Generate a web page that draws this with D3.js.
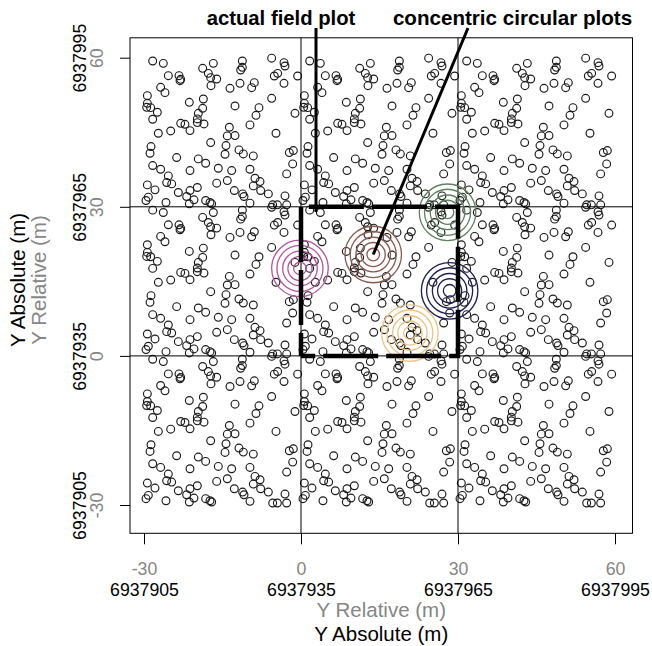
<!DOCTYPE html>
<html><head><meta charset="utf-8">
<script src="https://cdn.jsdelivr.net/npm/d3@7"></script>
<style>body{margin:0;background:#fff}svg{display:block;font-family:"Liberation Sans",Arial,sans-serif}</style>
</head><body><svg id="c" width="652" height="646"></svg>
<script>
// Stem positions of one 30 x 30 m tile (relative m)
const treeX = [1.66,3.69,24.39,26.75,26.94,11.21,13.25,18.79,18.47,18.79,4.65,6.69,7.01,12.29,12.74,13.89,24.9,25.54,26.75,29.36,12.8,18.34,21.08,20.57,16.43,3.18,4.01,0.64,0.64,0.51,1.27,2.55,1.66,8.66,11.34,11.21,10.38,17.39,21.97,24.39,21.4,28.85,10.19,10.19,11.46,7.01,7.83,8.79,5.1,2.74,16.31,20.25,25.22,15.92,17.39,12.74,15.67,1.34,1.15,6.24,10.38,11.78,15.48,18.15,18.98,20.89,27.77,28.54,28.41,1.66,3.18,8.79,14.2,16.75,20.25,27.26,4.65,4.33,5.29,21.21,22.17,0.64,2.1,6.56,8.79,10.19,13.89,15.92,20.89,22.29,23.76,26.94,17.26,18.85,19.11,0.83,0.38,4.2,8.15,9.55,11.78,12.61,12.93,8.66,20.25,24.59,25.48,27.26,6.88];
const treeY = [29.33,28.86,29.9,29.0,28.33,27.86,28.86,29.33,27.52,28.06,26.38,26.38,25.65,26.85,25.98,25.71,26.32,26.85,24.84,26.32,24.37,24.84,24.98,23.97,23.84,24.04,22.97,22.36,20.82,20.02,19.95,19.02,17.61,21.02,21.69,19.82,18.81,20.29,19.95,21.83,18.41,18.81,17.68,16.94,16.67,16.8,16.6,15.33,15.26,14.8,16.0,16.47,14.8,14.26,14.33,12.92,12.32,12.12,10.78,9.91,9.64,8.77,10.58,11.45,10.64,10.24,10.91,11.31,8.63,8.3,7.56,7.29,7.76,7.29,7.56,6.62,6.22,4.88,4.61,5.75,5.08,4.41,3.41,2.87,3.27,3.88,4.75,5.28,4.21,3.27,2.6,2.2,3.27,2.6,2.07,1.94,1.27,0.86,2.07,1.4,1.27,0.86,0.6,0.6,0.73,0.4,0.4,0.4,25.38];
// The tile is repeated around the field plot
const tileShift = [-30, 0, 30];
const relTicks = [-30, 0, 30, 60];
const absTicks = ["6937905", "6937935", "6937965", "6937995"];
const gridAt = [0, 30];
const fieldX = [0, 0, 30, 30, 0];
const fieldY = [0, 30, 30, 0, 0];
const plotCX = [-0.2, 13.8, 28.0, 28.4, 20.8];
const plotCY = [17.6, 20.4, 28.9, 13.1, 4.6];
const plotColor = ["#b2549e", "#8a5a50", "#5f7f60", "#1e1e55", "#ecc585"];
const ringR = [1.2, 2.3, 3.3, 4.4, 5.4];

const svg = d3.select("#c");
const X0 = 130, X1 = 632.5, Y0 = 37.8, Y1 = 533.3;
const x = d3.scaleLinear().domain([-30, 60]).range([144, 615]);
const y = d3.scaleLinear().domain([-30, 60]).range([505, 57.7]);
const gray = "#868686";
const FS = "17.7px";
const FT = "20.5px";

// points
const pts = [];
tileShift.forEach(dx => tileShift.forEach(dy => treeX.forEach((v, i) => pts.push([v + dx, treeY[i] + dy]))));
svg.append("g").selectAll("circle").data(pts).join("circle")
  .attr("cx", d => x(d[0])).attr("cy", d => y(d[1])).attr("r", 3.9)
  .attr("fill", "none").attr("stroke", "#1a1a1a").attr("stroke-width", 1.15);

// grid lines
svg.append("g").selectAll("line.v").data(gridAt).join("line")
  .attr("x1", d => x(d)).attr("x2", d => x(d)).attr("y1", Y0).attr("y2", Y1)
  .attr("stroke", "#000").attr("stroke-width", 1);
svg.append("g").selectAll("line.h").data(gridAt).join("line")
  .attr("y1", d => y(d)).attr("y2", d => y(d)).attr("x1", X0).attr("x2", X1)
  .attr("stroke", "#000").attr("stroke-width", 1);

// concentric plots
plotCX.forEach((cx, i) => {
  svg.append("g").selectAll("circle").data(ringR).join("circle")
    .attr("cx", x(cx)).attr("cy", y(plotCY[i]))
    .attr("r", r => x(r) - x(0))
    .attr("fill", "none").attr("stroke", plotColor[i]).attr("stroke-width", 1.3);
});

// field plot
const line = d3.line().x(d => x(d[0])).y(d => y(d[1]));
svg.append("path").attr("d", line(fieldX.map((v, i) => [v, fieldY[i]])))
  .attr("fill", "none").attr("stroke", "#000").attr("stroke-width", 4.5)
  .attr("stroke-linejoin", "miter")
  .attr("stroke-dasharray", "55,8").attr("stroke-dashoffset", 32);

// frame
svg.append("rect").attr("x", X0).attr("y", Y0).attr("width", X1 - X0).attr("height", Y1 - Y0)
  .attr("fill", "none").attr("stroke", "#000").attr("stroke-width", 1);

// bottom axis
const gb = svg.append("g").attr("transform", `translate(0,${Y1})`)
  .call(d3.axisBottom(x).tickValues(relTicks).tickSize(11).tickPadding(17.8).tickFormat(d => d));
gb.select(".domain").remove();
gb.selectAll("text").attr("fill", gray).style("font-size", FS).style("font-family", "Liberation Sans, Arial");
gb.selectAll("line").attr("stroke", "#000");
const gb2 = svg.append("g").attr("transform", `translate(0,${Y1})`)
  .call(d3.axisBottom(x).tickValues(relTicks).tickSize(0).tickPadding(49.7).tickFormat((d, i) => absTicks[i]));
gb2.select(".domain").remove();
gb2.selectAll("line").remove();
gb2.selectAll("text").attr("fill", "#000").style("font-size", FS).style("font-family", "Liberation Sans, Arial");

// left axis
const gl = svg.append("g").attr("transform", `translate(${X0},0)`)
  .call(d3.axisLeft(y).tickValues(relTicks).tickSize(10).tickFormat(d => d));
gl.select(".domain").remove();
gl.selectAll("text").attr("x", null).attr("dy", null).attr("text-anchor", "middle")
  .attr("transform", "translate(-27,0) rotate(-90)")
  .attr("fill", gray).style("font-size", FS).style("font-family", "Liberation Sans, Arial");
gl.selectAll(".tick").append("text")
  .attr("text-anchor", "middle").attr("transform", "translate(-44,0) rotate(-90)")
  .attr("fill", "#000").style("font-size", FS).style("font-family", "Liberation Sans, Arial")
  .text((d, i) => absTicks[i]);

// axis titles
const cxm = (X0 + X1) / 2, cym = 280;
svg.append("text").attr("x", cxm).attr("y", 616.5).attr("text-anchor", "middle").attr("fill", gray)
  .style("font-size", FT).text("Y Relative (m)");
svg.append("text").attr("x", cxm).attr("y", 640.5).attr("text-anchor", "middle").attr("fill", "#000")
  .style("font-size", FT).text("Y Absolute (m)");
svg.append("text").attr("transform", `translate(46,${cym}) rotate(-90)`).attr("text-anchor", "middle").attr("fill", gray)
  .style("font-size", FT).text("Y Relative (m)");
svg.append("text").attr("transform", `translate(25,${cym}) rotate(-90)`).attr("text-anchor", "middle").attr("fill", "#000")
  .style("font-size", FT).text("Y Absolute (m)");

// annotations
svg.append("text").attr("x", 281).attr("y", 25).attr("text-anchor", "middle").style("font-weight", "bold")
  .style("font-size", "20.3px").text("actual field plot");
svg.append("text").attr("x", 512.5).attr("y", 25).attr("text-anchor", "middle").style("font-weight", "bold")
  .style("font-size", "20.6px").text("concentric circular plots");
svg.append("line").attr("x1", 316).attr("y1", 28).attr("x2", 316).attr("y2", 212)
  .attr("stroke", "#000").attr("stroke-width", 3);
svg.append("line").attr("x1", 468).attr("y1", 28).attr("x2", x(plotCX[1])).attr("y2", y(plotCY[1]))
  .attr("stroke", "#000").attr("stroke-width", 3);
</script></body></html>
